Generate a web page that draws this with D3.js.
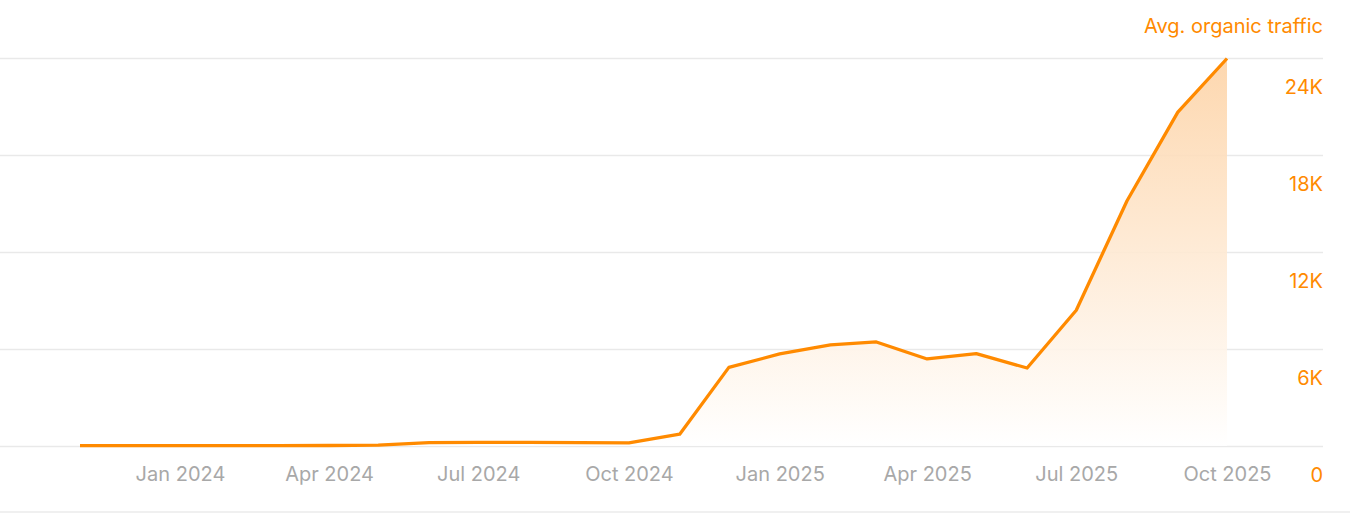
<!DOCTYPE html>
<html>
<head>
<meta charset="utf-8">
<script src="https://cdn.jsdelivr.net/npm/d3@7"></script>
<style>
  html, body { margin: 0; padding: 0; background: #fff; }
  svg { display: block; font-family: Inter, "Noto Sans", sans-serif; }
</style>
</head>
<body>
<svg id="chart" width="1350" height="514"></svg>
<script>
const months = ["2023-11","2023-12","2024-01","2024-02","2024-03","2024-04","2024-05","2024-06","2024-07","2024-08","2024-09","2024-10",
                "2024-11","2024-12","2025-01","2025-02","2025-03","2025-04","2025-05","2025-06","2025-07","2025-08","2025-09","2025-10"];
const traffic = [20, 20, 20, 20, 20, 30, 50, 210, 220, 220, 210, 190,
                 730, 4860, 5690, 6250, 6430, 5380, 5710, 4820, 8390, 15160, 20640, 23950];
const xTickLabels = ["Jan 2024","Apr 2024","Jul 2024","Oct 2024","Jan 2025","Apr 2025","Jul 2025","Oct 2025"];
const yTicks = [0, 6000, 12000, 18000, 24000];
const yTickLabels = ["0","6K","12K","18K","24K"];
const title = "Avg. organic traffic";

const parse = d3.timeParse("%Y-%m");
const data = months.map((m, i) => ({ date: parse(m), value: traffic[i] }));

const svg = d3.select("#chart");
const W = 1350, H = 514;
const orange = "#ff8a00";
const fontSize = 20;

const x = d3.scaleTime()
  .domain([data[0].date, data[data.length - 1].date])
  .range([80, 1227]);
const y = d3.scaleLinear().domain([0, 24000]).range([446, 57.7]);

// gradient
const defs = svg.append("defs");
const grad = defs.append("linearGradient")
  .attr("id", "areaGrad")
  .attr("gradientUnits", "userSpaceOnUse")
  .attr("x1", 0).attr("y1", y(24000)).attr("x2", 0).attr("y2", y(0));
grad.append("stop").attr("offset", "0%").attr("stop-color", "#fdd3a6").attr("stop-opacity", 0.9);
grad.append("stop").attr("offset", "100%").attr("stop-color", "#ffffff").attr("stop-opacity", 0.9);

// gridlines
svg.append("g").selectAll("line")
  .data(yTicks)
  .join("line")
  .attr("x1", 0).attr("x2", 1323)
  .attr("y1", d => Math.round(y(d)) + 0.5).attr("y2", d => Math.round(y(d)) + 0.5)
  .attr("stroke", "#e9e9e9").attr("stroke-width", 1.5);

// bottom border
svg.append("line")
  .attr("x1", 0).attr("x2", W).attr("y1", 512).attr("y2", 512)
  .attr("stroke", "#ebebeb").attr("stroke-width", 1.5);

// area
const area = d3.area().x(d => x(d.date)).y0(y(0)).y1(d => y(d.value));
svg.append("path").datum(data)
  .attr("d", area)
  .attr("fill", "url(#areaGrad)");

// line
const line = d3.line().x(d => x(d.date)).y(d => y(d.value));
svg.append("path").datum(data)
  .attr("d", line)
  .attr("fill", "none")
  .attr("stroke", orange)
  .attr("stroke-width", 3.3)
  .attr("stroke-linejoin", "round");

// x axis labels
const xTickDates = xTickLabels.map(s => d3.timeParse("%b %Y")(s));
const xAxis = d3.axisBottom(x)
  .tickValues(xTickDates)
  .tickFormat((d, i) => xTickLabels[i])
  .tickSize(0).tickPadding(0);
const gx = svg.append("g").attr("transform", "translate(0,467)").call(xAxis);
gx.select(".domain").remove();
gx.selectAll("text")
  .attr("fill", "#a8a8a8")
  .attr("font-size", fontSize)
  .attr("font-family", "Inter, 'Noto Sans', sans-serif");

// y axis labels (right side, below gridlines)
const yAxis = d3.axisRight(y)
  .tickValues(yTicks)
  .tickFormat((d, i) => yTickLabels[i])
  .tickSize(0).tickPadding(0);
const gy = svg.append("g").attr("transform", "translate(1323,29)").call(yAxis);
gy.select(".domain").remove();
gy.selectAll("text")
  .attr("text-anchor", "end")
  .attr("x", 0)
  .attr("fill", orange)
  .attr("font-size", fontSize)
  .attr("font-family", "Inter, 'Noto Sans', sans-serif");

// title
svg.append("text")
  .attr("x", 1323).attr("y", 33)
  .attr("text-anchor", "end")
  .attr("fill", orange)
  .attr("font-size", fontSize)
  .text(title);
</script>
</body>
</html>
